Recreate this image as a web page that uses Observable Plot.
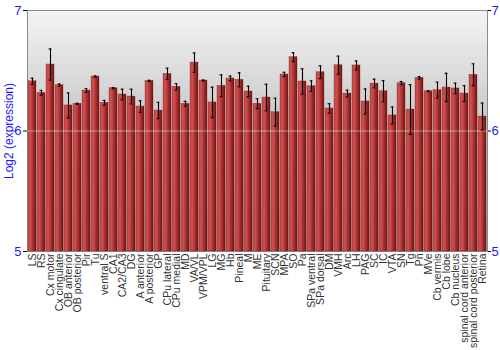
<!DOCTYPE html>
<html>
<head>
<meta charset="utf-8">
<script src="https://cdn.jsdelivr.net/npm/d3@7"></script>
<script src="https://cdn.jsdelivr.net/npm/@observablehq/plot@0.6"></script>
<style>
  html, body { margin: 0; padding: 0; background: #fff; }
  #chart svg { display: block; font-family: "Liberation Sans", Arial, sans-serif; }
  g[aria-label="y-axis tick label"] text { fill: #1a1aff; }
  g[aria-label="y-axis label"] text { fill: #1a1aff; }
</style>
</head>
<body>
<div id="chart"></div>
<script>
const regions = ["LS","RS","Cx motor","Cx cingulate","OB anterior","OB posterior","Pir","Tu","ventral S","CA1","CA2/CA3","DG","A anterior","A posterior","GP","CPu lateral","CPu medial","MD","VA/VL","VPM/VPL","LG","MG","Hb","Pineal","M","ME","Pituitary","SCN","MPA","SO","Pa","SPa ventral","SPa dorsal","DM","VMH","Arc","LH","PAG","SC","IC","VTA","SN","Tg","Pn","MVe","Cb vermis","Cb lobe","Cb nucleus","spinal cord anterior","spinal cord posterior","Retina"];
const means = [6.413,6.317,6.552,6.380,6.212,6.226,6.336,6.452,6.234,6.355,6.303,6.286,6.203,6.416,6.170,6.474,6.367,6.226,6.568,6.419,6.237,6.375,6.436,6.425,6.328,6.226,6.278,6.156,6.469,6.613,6.411,6.372,6.488,6.187,6.546,6.311,6.544,6.245,6.394,6.330,6.129,6.397,6.178,6.441,6.330,6.339,6.361,6.353,6.311,6.466,6.120];
const errors = [0.025,0.020,0.129,0.010,0.104,0.004,0.015,0.005,0.020,0.005,0.044,0.061,0.048,0.005,0.068,0.047,0.026,0.020,0.080,0.004,0.127,0.091,0.020,0.058,0.044,0.041,0.110,0.116,0.018,0.037,0.105,0.044,0.053,0.039,0.075,0.028,0.037,0.104,0.036,0.088,0.070,0.014,0.206,0.010,0.004,0.066,0.118,0.044,0.065,0.091,0.112];
const yTicks = [5, 6, 7];
const yLabel = "Log2 (expression)";

const data = regions.map((r, i) => ({region: r, mean: means[i], lo: means[i] - errors[i], hi: means[i] + errors[i]}));

const plot = Plot.plot({
  width: 500,
  height: 350,
  marginTop: 10,
  marginLeft: 27,
  marginRight: 13,
  marginBottom: 99,
  style: {fontFamily: "'Liberation Sans', Arial, sans-serif", background: "white"},
  x: {domain: regions, paddingInner: 0.1, paddingOuter: 0.04},
  y: {domain: [5, 7]},
  marks: [
    Plot.frame({fill: "url(#bgGrad)", stroke: "#8a8a8a"}),
    Plot.barY(data, {x: "region", y1: 5, y2: "mean", fill: "url(#barGrad)", stroke: "#7a1a1a", strokeWidth: 0.3}),
    Plot.ruleY([6], {stroke: "white", strokeOpacity: 0.45}),
    Plot.ruleX(data, {x: "region", y1: "lo", y2: "hi", stroke: "#000", strokeWidth: 1.1}),
    Plot.tickY(data, {x: "region", y: "lo", stroke: "#000", strokeWidth: 1.1, insetLeft: 2.6, insetRight: 2.6}),
    Plot.tickY(data, {x: "region", y: "hi", stroke: "#000", strokeWidth: 1.1, insetLeft: 2.6, insetRight: 2.6}),
    Plot.axisY({anchor: "left", ticks: yTicks, tickFormat: d3.format("d"), tickSize: 4, tickPadding: 2, fontSize: 13, label: yLabel, labelAnchor: "center", labelArrow: "none", labelOffset: 23}),
    Plot.axisY({anchor: "right", ticks: yTicks, tickFormat: d3.format("d"), tickSize: 3, tickPadding: 1, fontSize: 13, label: null}),
    Plot.axisX({tickRotate: -90, tickSize: 0, tickPadding: 2, fontSize: 10.5, fill: "#333", label: null})
  ]
});

const svg = d3.select(plot);
const defs = svg.insert("defs", ":first-child");
const bg = defs.append("linearGradient").attr("id", "bgGrad").attr("x1", 0).attr("y1", 0).attr("x2", 0).attr("y2", 1);
bg.append("stop").attr("offset", "0%").attr("stop-color", "#f4f4f4");
bg.append("stop").attr("offset", "50%").attr("stop-color", "#c4c4c4");
bg.append("stop").attr("offset", "100%").attr("stop-color", "#a0a0a0");
const bar = defs.append("linearGradient").attr("id", "barGrad").attr("x1", 0).attr("y1", 0).attr("x2", 1).attr("y2", 0);
bar.append("stop").attr("offset", "0%").attr("stop-color", "#c24848");
bar.append("stop").attr("offset", "30%").attr("stop-color", "#cc4e4e");
bar.append("stop").attr("offset", "65%").attr("stop-color", "#a42c2c");
bar.append("stop").attr("offset", "100%").attr("stop-color", "#6e1414");
svg.selectAll('g[aria-label="y-axis label"] text').style("font-size", "12px");

document.getElementById("chart").appendChild(plot);
</script>
</body>
</html>
